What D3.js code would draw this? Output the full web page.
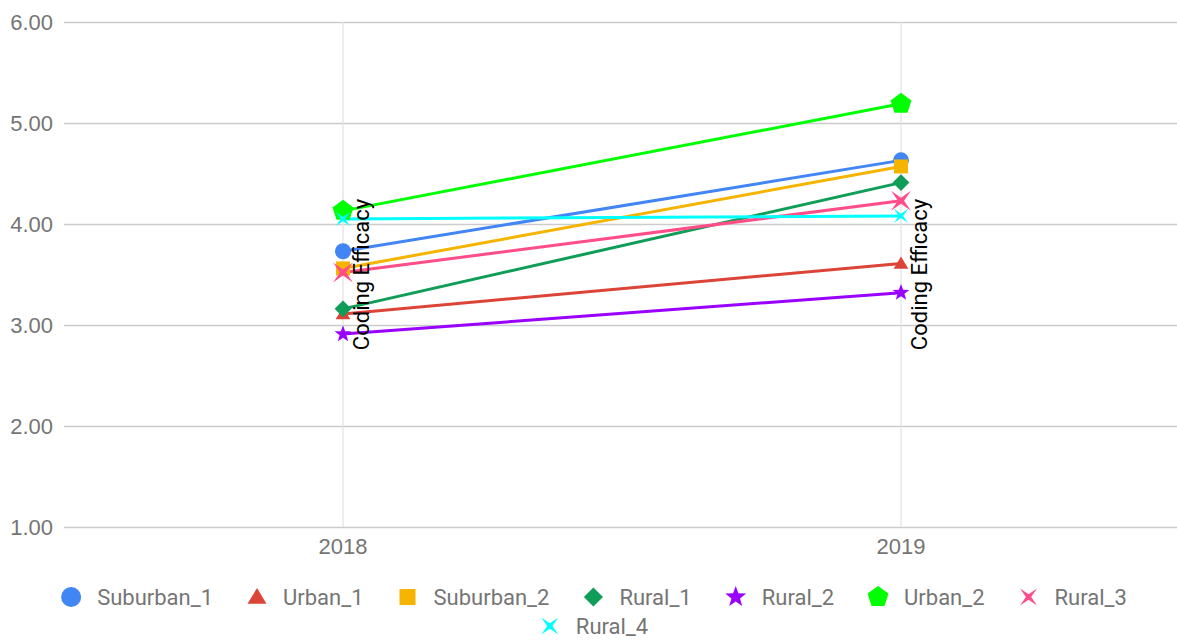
<!DOCTYPE html>
<html>
<head>
<meta charset="utf-8">
<title>Coding Efficacy</title>
<script src="https://d3js.org/d3.v7.min.js"></script>
<style>
  body { margin: 0; background: #fff; }
  svg { display: block; font-family: Roboto, Arial, sans-serif; }
</style>
</head>
<body>
<svg id="chart" width="1177" height="640"></svg>
<script>
// data
const years = ["2018", "2019"];
const seriesNames = ["Suburban_1", "Urban_1", "Suburban_2", "Rural_1", "Rural_2", "Urban_2", "Rural_3", "Rural_4"];
const suburban1 = [3.73, 4.63];
const urban1 = [3.11, 3.61];
const suburban2 = [3.56, 4.57];
const rural1 = [3.16, 4.41];
const rural2 = [2.91, 3.32];
const urban2 = [4.13, 5.19];
const rural3 = [3.52, 4.23];
const rural4 = [4.05, 4.08];
const yTicks = [1, 2, 3, 4, 5, 6];
const annotationText = "Coding Efficacy";

const seriesValues = [suburban1, urban1, suburban2, rural1, rural2, urban2, rural3, rural4];
const colors = ["#4285f4", "#db4437", "#f4b400", "#0f9d58", "#9900ff", "#00ff00", "#ff4d88", "#00ffff"];
const shapes = ["circle", "triangle", "square", "diamond", "star", "pentagon", "x", "x"];
const markerSize = [8, 7, 7, 7, 8, 11, 14, 10];

const svg = d3.select("#chart");
const margin = {left: 64, right: -3, top: 22, bottom: 113};
const W = 1177, H = 640;

const x = d3.scaleBand().domain(years).range([margin.left, W - margin.right]);
const y = d3.scaleLinear().domain([1, 6]).range([H - margin.bottom, margin.top]);
const cx = d => x(d) + x.bandwidth() / 2;

// shape paths
function polyPath(pts) {
  return "M" + pts.map(p => p[0].toFixed(2) + "," + p[1].toFixed(2)).join("L") + "Z";
}
function regular(n, r, inner) {
  const pts = [];
  const k = inner ? n * 2 : n;
  for (let i = 0; i < k; i++) {
    const a = -Math.PI / 2 + i * Math.PI * 2 / k;
    const rr = inner && i % 2 ? inner : r;
    pts.push([Math.cos(a) * rr, Math.sin(a) * rr]);
  }
  return polyPath(pts);
}
function shapePath(type, r) {
  switch (type) {
    case "circle": return d3.symbol(d3.symbolCircle, Math.PI * r * r)();
    case "triangle": return `M0,${-r}L${r * 1.05},${r * 0.75}L${-r * 1.05},${r * 0.75}Z`;
    case "square": return `M${-r},${-r}H${r}V${r}H${-r}Z`;
    case "diamond": return `M0,${-r * 1.2}L${r * 1.2},0L0,${r * 1.2}L${-r * 1.2},0Z`;
    case "star": return regular(5, r * 1.1, r * 0.45);
    case "pentagon": return regular(5, r);
    case "x": {
      const pts = [];
      for (let i = 0; i < 8; i++) {
        const a = i * Math.PI / 4;
        const rr = i % 2 ? r : r * 0.22;
        pts.push([Math.cos(a) * rr, Math.sin(a) * rr]);
      }
      return polyPath(pts);
    }
  }
}

// horizontal grid + y labels
const yAxis = d3.axisLeft(y).tickValues(yTicks).tickFormat(d3.format(".2f"))
  .tickSize(-(W - margin.left)).tickPadding(11);
const gy = svg.append("g").attr("transform", `translate(${margin.left},0)`).call(yAxis);
gy.select(".domain").remove();
gy.selectAll("line").attr("stroke", "#cccccc").attr("stroke-width", 1.3);
gy.selectAll("text").attr("fill", "#757575").style("font-size", "22px");

// vertical grid at categories
svg.append("g").selectAll("line").data(years).join("line")
  .attr("x1", cx).attr("x2", cx)
  .attr("y1", y(6)).attr("y2", y(1))
  .attr("stroke", "#e3e3e3").attr("stroke-width", 1.3);

// x labels
const xAxis = d3.axisBottom(x).tickSize(0).tickPadding(11);
const gx = svg.append("g").attr("transform", `translate(0,${y(1)})`).call(xAxis);
gx.select(".domain").remove();
gx.selectAll("text").attr("fill", "#757575").style("font-size", "22px");

// lines
const line = d3.line().x((d, i) => cx(years[i])).y(d => y(d));
svg.append("g").selectAll("path").data(seriesValues).join("path")
  .attr("d", d => line(d))
  .attr("fill", "none")
  .attr("stroke", (d, i) => colors[i])
  .attr("stroke-width", 3);

// markers
seriesValues.forEach((vals, s) => {
  svg.append("g").selectAll("path").data(vals).join("path")
    .attr("transform", (d, i) => `translate(${cx(years[i])},${y(d)})`)
    .attr("d", shapePath(shapes[s], markerSize[s]))
    .attr("fill", colors[s]);
});

// annotations
svg.append("g").selectAll("text").data(years).join("text")
  .attr("transform", d => `translate(${cx(d) + 26},${y(3.5)}) rotate(-90)`)
  .attr("text-anchor", "middle")
  .attr("fill", "#000")
  .style("font-size", "22px")
  .text(annotationText);

// legend
const legend = svg.append("g");
const legendSize = [10, 9, 8, 8, 10, 11, 12, 12];
const rows = [[0, 1, 2, 3, 4, 5, 6], [7]];
const rowY = [597, 626];
const centerX = 594;
rows.forEach((row, ri) => {
  const items = row.map(i => {
    const g = legend.append("g");
    g.append("path").attr("d", shapePath(shapes[i], legendSize[i])).attr("fill", colors[i]);
    const t = g.append("text").attr("x", 26).attr("dy", "0.35em")
      .attr("fill", "#757575").style("font-size", "22px").text(seriesNames[i]);
    return {g, w: 26 + t.node().getComputedTextLength()};
  });
  const gap = 44;
  const total = d3.sum(items, d => d.w) + gap * (items.length - 1) + 10;
  let xp = centerX - total / 2 + 10;
  items.forEach(it => {
    it.g.attr("transform", `translate(${xp},${rowY[ri]})`);
    xp += it.w + gap;
  });
});
</script>
</body>
</html>
